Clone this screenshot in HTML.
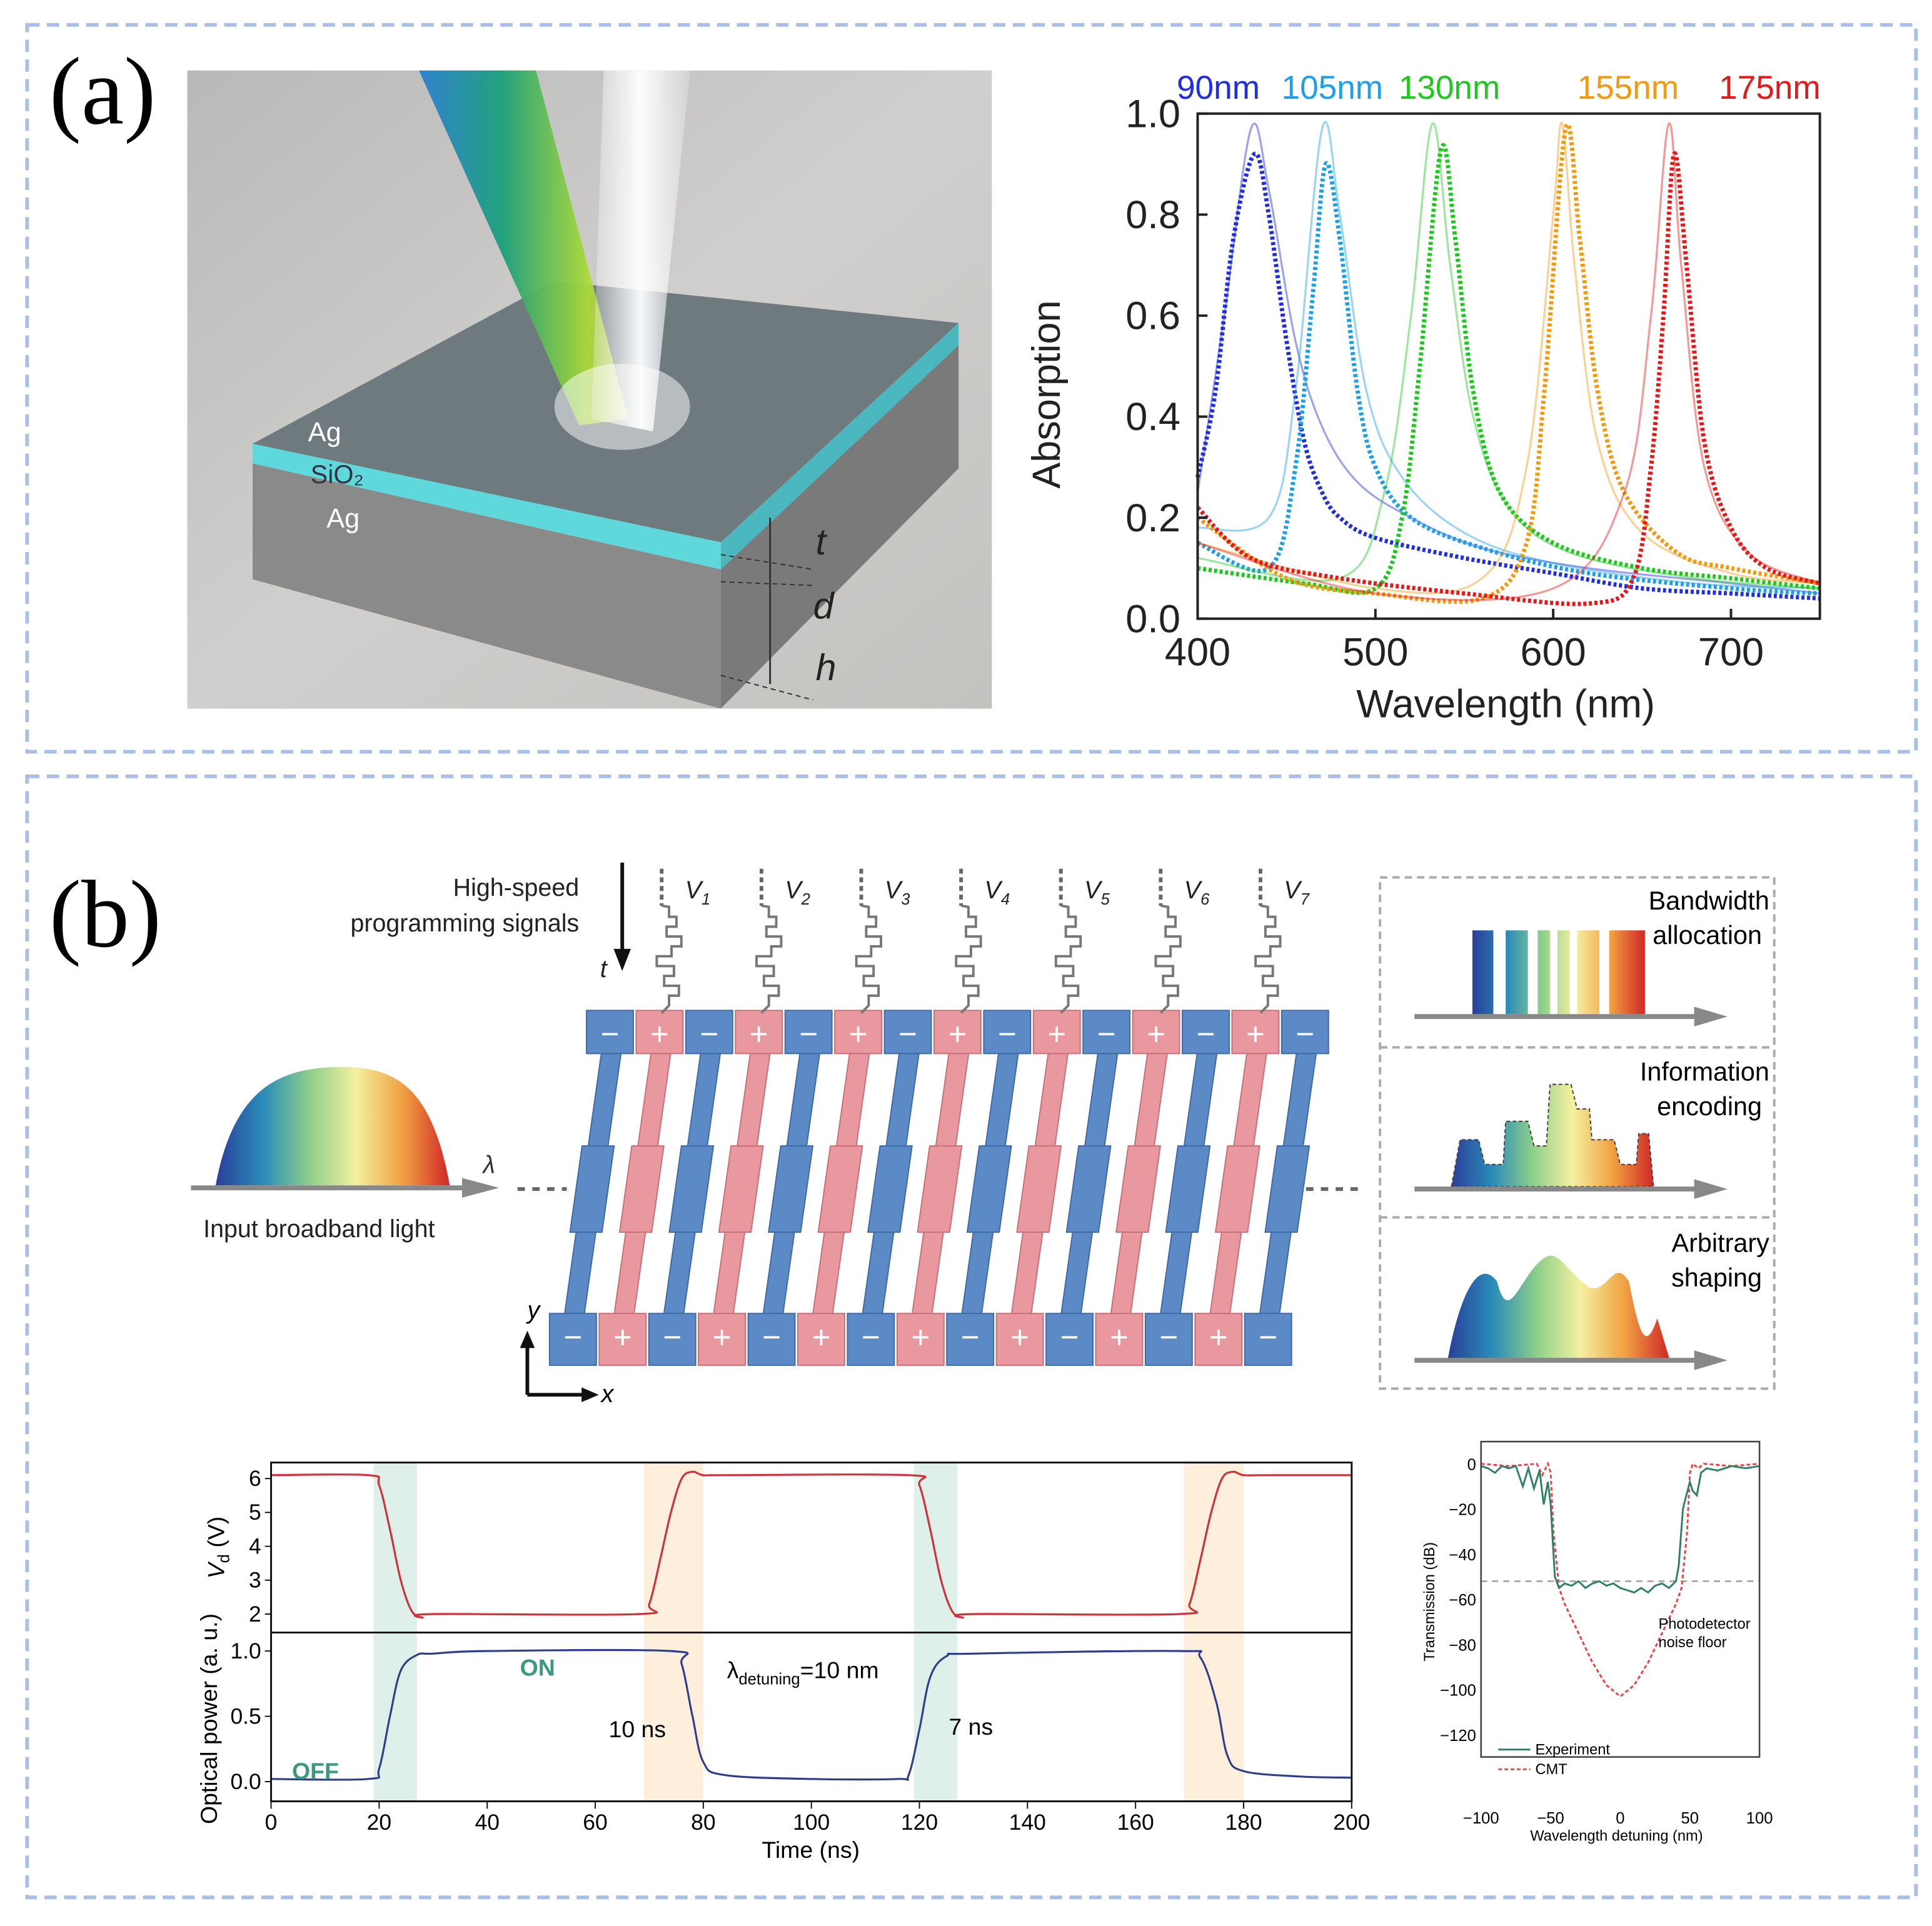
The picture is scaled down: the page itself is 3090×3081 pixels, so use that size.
<!DOCTYPE html>
<html><head><meta charset="utf-8"><style>
html,body{margin:0;padding:0;background:#fff}
svg{display:block}
text{font-family:"Liberation Sans",sans-serif}
</style></head><body>
<svg id="root" width="3090" height="3081" viewBox="0 0 1568 1563" xmlns="http://www.w3.org/2000/svg">
<defs>
<linearGradient id="bg3d" x1="0" y1="0" x2="1" y2="1"><stop offset="0" stop-color="#b9b9b9"/><stop offset="0.5" stop-color="#d0cfcd"/><stop offset="1" stop-color="#c4c2bf"/></linearGradient>
<linearGradient id="beam1" x1="0" y1="0" x2="1" y2="0"><stop offset="0" stop-color="#2a7fd0"/><stop offset="0.4" stop-color="#1aa07a"/><stop offset="0.8" stop-color="#a8d838"/><stop offset="1" stop-color="#e8f060" stop-opacity="0.6"/></linearGradient>
<linearGradient id="beam2" x1="0" y1="0" x2="1" y2="0"><stop offset="0" stop-color="#fff" stop-opacity="0.2"/><stop offset="0.5" stop-color="#fff" stop-opacity="0.95"/><stop offset="1" stop-color="#fff" stop-opacity="0.2"/></linearGradient>
<linearGradient id="spec" x1="0" y1="0" x2="1" y2="0"><stop offset="0" stop-color="#2a3f9a"/><stop offset="0.2" stop-color="#2a8ab8"/><stop offset="0.4" stop-color="#8ccf8a"/><stop offset="0.6" stop-color="#f4f0a0"/><stop offset="0.8" stop-color="#f0a040"/><stop offset="1" stop-color="#d02828"/></linearGradient>
</defs>

<rect x="22" y="20" width="1533" height="590" fill="none" stroke="#a9bfe6" stroke-width="3" stroke-dasharray="10,6"/>
<rect x="22" y="630" width="1533" height="910" fill="none" stroke="#a9bfe6" stroke-width="3" stroke-dasharray="10,6"/>
<text x="40" y="100" font-size="78" style="font-family:'Liberation Serif',serif">(a)</text>
<text x="40" y="768" font-size="78" style="font-family:'Liberation Serif',serif">(b)</text>

<g>
<rect x="152" y="57" width="653" height="518" fill="url(#bg3d)"/>
<polygon points="205,360 450,228 778,262 585,440" fill="#6e7a7e"/>
<polygon points="205,360 585,440 585,462 205,376" fill="#5fd8dc"/>
<polygon points="585,440 778,262 778,280 585,462" fill="#4ab8be"/>
<polygon points="205,376 585,462 585,575 205,470" fill="#8a8a8a"/>
<polygon points="585,462 778,280 778,380 585,575" fill="#7a7a7a"/>
<polygon points="340,57 435,57 510,340 470,345" fill="url(#beam1)" opacity="0.95"/>
<polygon points="490,57 560,57 530,350 480,340" fill="url(#beam2)"/>
<ellipse cx="505" cy="330" rx="55" ry="35" fill="#fff" opacity="0.5"/>
<text x="250" y="358" font-size="22" fill="#fff">Ag</text>
<text x="252" y="392" font-size="21" fill="#334">SiO₂</text>
<text x="265" y="428" font-size="22" fill="#fff">Ag</text>
<text x="662" y="450" font-size="30" font-style="italic" fill="#222">t</text>
<text x="660" y="502" font-size="30" font-style="italic" fill="#222">d</text>
<text x="662" y="552" font-size="30" font-style="italic" fill="#222">h</text>
<line x1="625" y1="420" x2="625" y2="555" stroke="#333" stroke-width="1.5"/>
<line x1="585" y1="450" x2="660" y2="462" stroke="#333" stroke-dasharray="4,3"/>
<line x1="585" y1="472" x2="660" y2="475" stroke="#333" stroke-dasharray="4,3"/>
<line x1="585" y1="548" x2="660" y2="568" stroke="#333" stroke-dasharray="4,3"/>
</g>

<g id="absChart"></g>
<g id="device"></g>
<g id="timeChart"></g>
<g id="transChart"></g>
</svg>
<script>
const absLabels = ["90nm","105nm","130nm","155nm","175nm"];
const absColors = ["#1f2ee0","#1ea0e8","#1ec81e","#f59a10","#e81818"];
const expWl = [
 [400,410,420,432,440,450,460,470,480,500,550,600,650,700,750],
 [400,440,455,465,472,480,490,500,520,560,620,700,750],
 [400,460,500,515,525,537,545,555,570,600,650,700,750],
 [400,450,500,560,585,595,607,615,625,640,670,700,750],
 [400,430,480,550,620,645,655,662,668,675,685,700,720,750]];
const expAbs = [
 [0.28,0.45,0.75,0.92,0.8,0.55,0.35,0.25,0.2,0.16,0.12,0.09,0.06,0.05,0.04],
 [0.15,0.1,0.3,0.65,0.9,0.75,0.45,0.3,0.2,0.14,0.09,0.06,0.05],
 [0.1,0.07,0.06,0.2,0.5,0.93,0.75,0.45,0.25,0.15,0.1,0.08,0.06],
 [0.2,0.08,0.05,0.04,0.15,0.45,0.97,0.75,0.45,0.25,0.13,0.1,0.07],
 [0.22,0.12,0.08,0.05,0.03,0.08,0.3,0.6,0.92,0.7,0.35,0.18,0.1,0.07]];
const simWl = [
 [400,415,430,440,455,470,490,520,560,620,700,750],
 [400,440,455,470,480,495,515,550,600,680,750],
 [400,480,505,520,532,542,555,575,610,680,750],
 [400,500,560,585,600,605,612,625,650,700,750],
 [400,500,600,640,655,665,672,685,710,750]];
const simAbs = [
 [0.25,0.6,0.97,0.85,0.55,0.38,0.27,0.2,0.14,0.1,0.07,0.05],
 [0.18,0.2,0.45,0.97,0.8,0.45,0.28,0.17,0.11,0.07,0.06],
 [0.12,0.08,0.25,0.6,0.98,0.7,0.4,0.22,0.13,0.08,0.06],
 [0.15,0.06,0.08,0.3,0.8,0.98,0.7,0.35,0.17,0.09,0.07],
 [0.15,0.05,0.06,0.25,0.6,0.98,0.7,0.3,0.13,0.07]];
const absXTicks = [400,500,600,700];
const absYTicks = [0.0,0.2,0.4,0.6,0.8,1.0];

const tTime = [0,18,20,22,24,26,28,30,68,70,72,74,76,78,80,84,118,120,122,124,126,128,130,168,170,172,174,176,178,180,184,200];
const tVd   = [6.1,6.1,5.8,4.5,3.0,2.1,1.9,2.0,2.0,2.3,3.6,5.0,6.0,6.2,6.1,6.1,6.1,5.8,4.5,3.0,2.1,1.9,2.0,2.0,2.3,3.6,5.0,6.0,6.2,6.1,6.1,6.1];
const oTime = [0,18,20,22,24,27,30,40,74,76,78,80,84,100,116,118,120,122,125,130,168,172,175,177,180,190,200];
const oPow  = [0.02,0.02,0.1,0.5,0.85,0.97,0.98,1.0,1.0,0.9,0.5,0.15,0.05,0.02,0.02,0.05,0.4,0.8,0.96,0.98,1.0,0.95,0.6,0.2,0.08,0.04,0.03];
const shadeStart = [19,69,119,169];
const shadeEnd = [27,80,127,180];
const shadeKind = ["on","off","on","off"];
const timeTicks = [0,20,40,60,80,100,120,140,160,180,200];
const vdTicks = [2,3,4,5,6];
const powTicks = [0.0,0.5,1.0];

const expDet = [-100,-95,-90,-85,-80,-75,-70,-66,-62,-58,-55,-52,-50,-47,-44,-40,-35,-30,-25,-20,-15,-10,-5,0,5,10,15,20,25,30,35,40,42,45,47,50,52,55,58,62,70,80,90,100];
const expT  = [-1,-2,-4,-1,-2,-1,-10,-2,-11,-3,-18,-8,-18,-50,-55,-53,-54,-52,-55,-53,-52,-54,-53,-55,-56,-57,-55,-57,-54,-53,-55,-52,-45,-20,-15,-8,-12,-14,-4,-2,-3,-1,-2,-1];
const cmtDet = [-100,-80,-60,-56,-52,-50,-48,-44,-40,-30,-20,-10,0,10,20,30,40,44,48,50,52,56,60,80,100];
const cmtT  = [0,-1,0,-5,0,-4,-30,-55,-62,-75,-88,-98,-103,-98,-88,-75,-62,-55,-30,-4,0,-2,0,-1,0];
const detTicks = [-100,-50,0,50,100];
const transTicks = [0,-20,-40,-60,-80,-100,-120];

const NS="http://www.w3.org/2000/svg";
function mk(parent,tag,attrs,txt){const e=document.createElementNS(NS,tag);for(const k in attrs)e.setAttribute(k,attrs[k]);if(txt!==undefined)e.textContent=txt;parent.appendChild(e);return e;}
function smoothPath(pts){let d="M"+pts[0][0]+","+pts[0][1];for(let i=1;i<pts.length;i++){const p0=pts[i-2]||pts[i-1],p1=pts[i-1],p2=pts[i],p3=pts[i+1]||p2;const c1=[p1[0]+(p2[0]-p0[0])/6,p1[1]+(p2[1]-p0[1])/6],c2=[p2[0]-(p3[0]-p1[0])/6,p2[1]-(p3[1]-p1[1])/6];d+=" C"+c1+" "+c2+" "+p2;}return d;}

(function(){
const g=document.getElementById('absChart');
const X0=972,X1=1477,Y0=502,Y1=92;
const ax=w=>X0+(w-400)/(750-400)*(X1-X0), ay=a=>Y0-(a)/1.0*(Y0-Y1);
for(let s=0;s<5;s++){
  const sp=mk(g,'path',{d:smoothPath(simWl[s].map((w,i)=>[ax(w),ay(simAbs[s][i])])),fill:'none',stroke:absColors[s],'stroke-width':1.6,opacity:0.45});
  
  
  const ep=mk(g,'path',{d:smoothPath(expWl[s].map((w,i)=>[ax(w),ay(expAbs[s][i])])),fill:'none',stroke:absColors[s],'stroke-width':3.5,'stroke-dasharray':'2.5,2'});
  
  
}
const fr=mk(g,'rect',{x:X0,y:Y1,width:X1-X0,height:Y0-Y1,fill:'none',stroke:'#222','stroke-width':2});


absXTicks.forEach(t=>{mk(g,'line',{x1:ax(t),x2:ax(t),y1:Y0,y2:Y0-8,stroke:'#222','stroke-width':2});
  const l=mk(g,'text',{x:ax(t),y:540,'font-size':32,'text-anchor':'middle',fill:'#222'},String(t));
  
  });
absYTicks.forEach(t=>{mk(g,'line',{x1:X0,x2:X0+8,y1:ay(t),y2:ay(t),stroke:'#222','stroke-width':2});
  const l=mk(g,'text',{x:958,y:ay(t)+11,'font-size':32,'text-anchor':'end',fill:'#222'},t.toFixed(1));
  
  });
const xt=mk(g,'text',{x:1222,y:582,'font-size':32,'text-anchor':'middle',fill:'#222'},'Wavelength (nm)');


const yt=mk(g,'text',{x:0,y:0,'font-size':32,'text-anchor':'middle',fill:'#222',transform:'translate(860,320) rotate(-90)'},'Absorption');


const lx=[955,1040,1135,1280,1395];
absLabels.forEach((n,i)=>{const t=mk(g,'text',{x:lx[i],y:80,'font-size':27,fill:absColors[i]},n);
  
  });
})();

(function(){
const g=document.getElementById('device');
const blue="#5b8ac7",pink="#e8989e",dark="#3f6aa3";
mk(g,'path',{d:"M175,962 C190,880 230,868 270,866 C320,864 350,880 365,962 Z",fill:'url(#spec)'});
mk(g,'line',{x1:155,y1:964,x2:385,y2:964,stroke:'#888','stroke-width':4});
mk(g,'polygon',{points:"375,956 405,964 375,972",fill:'#888'});
mk(g,'text',{x:392,y:952,'font-size':20,'font-style':'italic',fill:'#333'},'λ');
mk(g,'text',{x:165,y:1004,'font-size':20,fill:'#222'},'Input broadband light');
mk(g,'line',{x1:420,y1:965,x2:460,y2:965,stroke:'#666','stroke-width':3,'stroke-dasharray':'6,6'});
mk(g,'line',{x1:1060,y1:965,x2:1105,y2:965,stroke:'#666','stroke-width':3,'stroke-dasharray':'6,6'});
mk(g,'text',{x:470,y:727,'font-size':20,'text-anchor':'end',fill:'#222'},'High-speed');
mk(g,'text',{x:470,y:756,'font-size':20,'text-anchor':'end',fill:'#222'},'programming signals');
mk(g,'line',{x1:505,y1:700,x2:505,y2:775,stroke:'#111','stroke-width':3});
mk(g,'polygon',{points:"498,770 512,770 505,788",fill:'#111'});
mk(g,'text',{x:487,y:793,'font-size':20,'font-style':'italic',fill:'#222'},'t');
const Ytop=855,Ybot=1068;
for(let i=0;i<15;i++){
  const tx=476+i*40.3, bx=446+i*40.3, c=i%2?pink:blue, sc=i%2?'#c87078':dark;
  const xAt=y=>tx+(bx-tx)*(y-Ytop)/(Ybot-Ytop);
  mk(g,'polygon',{points:`${tx+12},${Ytop} ${tx+28},${Ytop} ${bx+28},${Ybot} ${bx+12},${Ybot}`,fill:c,stroke:sc,'stroke-width':1});
  const ya=930,yb=1000;
  mk(g,'polygon',{points:`${xAt(ya)+7},${ya} ${xAt(ya)+33},${ya} ${xAt(yb)+33},${yb} ${xAt(yb)+7},${yb}`,fill:c,stroke:sc,'stroke-width':1});
}
for(let i=0;i<15;i++){
  const tx=476+i*40.3, bx=446+i*40.3, c=i%2?pink:blue;
  mk(g,'rect',{x:tx,y:820,width:38,height:35,fill:c,stroke:i%2?'#c87078':dark});
  mk(g,'text',{x:tx+19,y:848,'font-size':26,'text-anchor':'middle',fill:'#fff'},i%2?'+':'−');
  mk(g,'rect',{x:bx,y:1066,width:38,height:42,fill:c,stroke:i%2?'#c87078':dark});
  mk(g,'text',{x:bx+19,y:1094,'font-size':26,'text-anchor':'middle',fill:'#fff'},i%2?'+':'−');
}
const vNames=["V1","V2","V3","V4","V5","V6","V7"];
vNames.forEach((v,k)=>{
  const x=537+k*81;
  mk(g,'line',{x1:x,y1:705,x2:x,y2:735,stroke:'#666','stroke-width':3,'stroke-dasharray':'4,3'});
  let d=`M${x},735`;const amps=[6,12,4,16,8,-4,10,2,14,6];
  amps.forEach((a,j)=>{const y=740+j*8;d+=` L${x+a},${y-4} L${x+a},${y+4}`;});
  d+=` L${x},822`;
  mk(g,'path',{d:d,fill:'none',stroke:'#777','stroke-width':2});
  const t=mk(g,'text',{x:x+19,y:729,'font-size':20,'font-style':'italic',fill:'#222'},'V');
  mk(t,'tspan',{'font-size':13,dy:5},String(k+1));
});
mk(g,'line',{x1:428,y1:1132,x2:428,y2:1090,stroke:'#111','stroke-width':3});
mk(g,'line',{x1:428,y1:1132,x2:475,y2:1132,stroke:'#111','stroke-width':3});
mk(g,'polygon',{points:"422,1094 434,1094 428,1080",fill:'#111'});
mk(g,'polygon',{points:"472,1126 472,1138 486,1132",fill:'#111'});
mk(g,'text',{x:428,y:1070,'font-size':20,'font-style':'italic'},'y');
mk(g,'text',{x:488,y:1138,'font-size':20,'font-style':'italic'},'x');
mk(g,'rect',{x:1120,y:712,width:320,height:415,fill:'none',stroke:'#aaa','stroke-width':2,'stroke-dasharray':'6,4'});
mk(g,'line',{x1:1120,y1:850,x2:1440,y2:850,stroke:'#aaa','stroke-width':2,'stroke-dasharray':'6,4'});
mk(g,'line',{x1:1120,y1:988,x2:1440,y2:988,stroke:'#aaa','stroke-width':2,'stroke-dasharray':'6,4'});
mk(g,'rect',{x:1195,y:755,width:140,height:68,fill:'url(#spec)'});
[[1212,1222],[1240,1248],[1258,1264],[1274,1280],[1298,1306]].forEach(p=>mk(g,'rect',{x:p[0],y:750,width:p[1]-p[0],height:75,fill:'#fff'}));
mk(g,'path',{d:"M1178,963 L1185,925 L1200,925 L1205,945 L1220,945 L1222,910 L1240,910 L1245,930 L1255,930 L1258,880 L1275,880 L1280,900 L1290,900 L1292,925 L1310,925 L1315,945 L1328,945 L1330,920 L1338,920 L1342,963 Z",fill:'url(#spec)',stroke:'#444','stroke-dasharray':'3,2'});
mk(g,'path',{d:"M1175,1103 C1185,1050 1200,1020 1215,1040 C1225,1080 1235,1030 1255,1020 C1265,1015 1270,1030 1290,1045 C1305,1050 1310,1020 1322,1040 C1330,1080 1335,1100 1345,1070 L1355,1103 Z",fill:'url(#spec)'});
[[825,'Bandwidth','allocation',738,766],[965,'Information','encoding',877,905],[1104,'Arbitrary','shaping',1016,1044]].forEach(r=>{
  mk(g,'line',{x1:1148,y1:r[0],x2:1380,y2:r[0],stroke:'#888','stroke-width':4});
  mk(g,'polygon',{points:`1375,${r[0]-8} 1402,${r[0]} 1375,${r[0]+8}`,fill:'#888'});
  mk(g,'text',{x:1436,y:r[3],'font-size':21,'text-anchor':'end'},r[1]);
  mk(g,'text',{x:1430,y:r[4],'font-size':21,'text-anchor':'end'},r[2]);
});
})();

(function(){
const g=document.getElementById('timeChart');
const X0=220,X1=1097;
const tx=t=>X0+t/200*(X1-X0);
const vy=v=>1310-(v-2)*27.5;
const py=p=>1446-p*106;
shadeStart.forEach((s,i)=>{const r=mk(g,'rect',{x:tx(s),y:1187,width:tx(shadeEnd[i])-tx(s),height:1462-1187,fill:shadeKind[i]=='on'?'#d7ece6':'#fcebd3',opacity:0.8});
  
  });
const vl=mk(g,'path',{d:smoothPath(tTime.map((t,i)=>[tx(t),vy(tVd[i])])),fill:'none',stroke:'#d0303a','stroke-width':1.6});


const pl=mk(g,'path',{d:smoothPath(oTime.map((t,i)=>[tx(t),py(oPow[i])])),fill:'none',stroke:'#2d3f8c','stroke-width':1.6});


mk(g,'rect',{x:X0,y:1187,width:X1-X0,height:275,fill:'none',stroke:'#111','stroke-width':1.5});
mk(g,'line',{x1:X0,x2:X1,y1:1325,y2:1325,stroke:'#111','stroke-width':1.5});
timeTicks.forEach(t=>{mk(g,'line',{x1:tx(t),x2:tx(t),y1:1462,y2:1468,stroke:'#111'});
  const l=mk(g,'text',{x:tx(t),y:1485,'font-size':18,'text-anchor':'middle'},String(t));
  
  });
vdTicks.forEach(v=>{mk(g,'line',{x1:X0-5,x2:X0,y1:vy(v),y2:vy(v),stroke:'#111'});
  const l=mk(g,'text',{x:X0-8,y:vy(v)+6,'font-size':18,'text-anchor':'end'},String(v));
  
  });
powTicks.forEach(v=>{mk(g,'line',{x1:X0-5,x2:X0,y1:py(v),y2:py(v),stroke:'#111'});
  const l=mk(g,'text',{x:X0-8,y:py(v)+6,'font-size':18,'text-anchor':'end'},v.toFixed(1));
  
  });
const xt=mk(g,'text',{x:658,y:1508,'font-size':19,'text-anchor':'middle'},'Time (ns)');


const v1=mk(g,'text',{transform:'translate(182,1256) rotate(-90)','font-size':19,'text-anchor':'middle'},'');
mk(v1,'tspan',{'font-style':'italic'},'V');mk(v1,'tspan',{'font-size':13,dy:4},'d');mk(v1,'tspan',{dy:-4},' (V)');


const v2=mk(g,'text',{transform:'translate(176,1395) rotate(-90)','font-size':19,'text-anchor':'middle'},'Optical power (a. u.)');


mk(g,'text',{x:237,y:1444,'font-size':19,'font-weight':'bold',fill:'#3a9a80'},'OFF');
mk(g,'text',{x:422,y:1360,'font-size':19,'font-weight':'bold',fill:'#3a9a80'},'ON');
mk(g,'text',{x:494,y:1410,'font-size':19},'10 ns');
mk(g,'text',{x:770,y:1408,'font-size':19},'7 ns');
const la=mk(g,'text',{x:590,y:1362,'font-size':19},'λ');
mk(la,'tspan',{'font-size':13,dy:5},'detuning');mk(la,'tspan',{dy:-5},'=10 nm');
})();

(function(){
const g=document.getElementById('transChart');
const X0=1202,X1=1428,Yt=1170,Yb=1426;
const dx=d=>X0+(d+100)/200*(X1-X0);
const ty=v=>1188-v/120*(1408-1188);
mk(g,'line',{x1:X0,x2:X1,y1:ty(-52),y2:ty(-52),stroke:'#999','stroke-width':1.2,'stroke-dasharray':'5,4'});
const c=mk(g,'path',{d:cmtDet.map((d,i)=>(i?'L':'M')+dx(d)+','+ty(cmtT[i])).join(' '),fill:'none',stroke:'#f04040','stroke-width':1.5,'stroke-dasharray':'3,2'});


const e=mk(g,'path',{d:expDet.map((d,i)=>(i?'L':'M')+dx(d)+','+ty(expT[i])).join(' '),fill:'none',stroke:'#2e8068','stroke-width':1.5});


mk(g,'rect',{x:X0,y:Yt,width:X1-X0,height:Yb-Yt,fill:'none',stroke:'#444','stroke-width':1.3});
detTicks.forEach(t=>{const l=mk(g,'text',{x:dx(t),y:1480,'font-size':13,'text-anchor':'middle'},t<0?'−'+(-t):String(t));
  
  });
transTicks.forEach(t=>{const l=mk(g,'text',{x:X0-4,y:ty(t)+5,'font-size':13,'text-anchor':'end'},t<0?'−'+(-t):String(t));
  
  });
mk(g,'text',{x:1312,y:1494,'font-size':12,'text-anchor':'middle'},'Wavelength detuning (nm)');
mk(g,'text',{transform:'translate(1164,1300) rotate(-90)','font-size':12,'text-anchor':'middle'},'Transmission (dB)');
mk(g,'text',{x:1346,y:1322,'font-size':12},'Photodetector');
mk(g,'text',{x:1346,y:1337,'font-size':12},'noise floor');
mk(g,'line',{x1:1216,x2:1242,y1:1420,y2:1420,stroke:'#2e8068','stroke-width':1.5});
mk(g,'line',{x1:1216,x2:1242,y1:1436,y2:1436,stroke:'#f04040','stroke-width':1.5,'stroke-dasharray':'3,2'});
mk(g,'text',{x:1246,y:1424,'font-size':12},'Experiment');
mk(g,'text',{x:1246,y:1440,'font-size':12},'CMT');
})();
</script>
</body></html>
